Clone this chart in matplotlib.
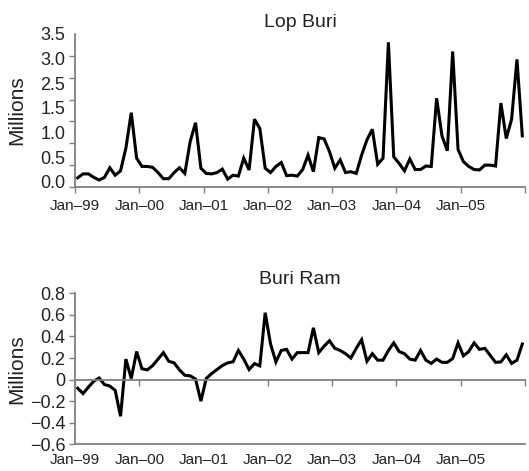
import matplotlib
matplotlib.use("Agg")
import matplotlib.pyplot as plt
from matplotlib.ticker import FixedLocator, NullFormatter
import numpy as np

plt.rcParams['font.family'] = ['Liberation Sans', 'DejaVu Sans']

# Monthly data Jan-1999 .. Dec-2005 (millions)
lop_buri = [0.21, 0.30, 0.30, 0.22, 0.16, 0.22, 0.44, 0.27, 0.37, 0.89, 1.70, 0.66,
            0.47, 0.47, 0.45, 0.33, 0.19, 0.19, 0.33, 0.44, 0.31, 1.04, 1.47, 0.43,
            0.31, 0.30, 0.33, 0.41, 0.18, 0.27, 0.25, 0.66, 0.39, 1.55, 1.34, 0.43,
            0.33, 0.47, 0.56, 0.26, 0.27, 0.25, 0.40, 0.73, 0.35, 1.13, 1.10, 0.81,
            0.43, 0.62, 0.33, 0.35, 0.31, 0.73, 1.08, 1.32, 0.52, 0.66, 3.31, 0.69,
            0.54, 0.37, 0.64, 0.40, 0.40, 0.48, 0.47, 2.03, 1.17, 0.83, 3.10, 0.86,
            0.58, 0.47, 0.40, 0.39, 0.50, 0.50, 0.48, 1.92, 1.11, 1.55, 2.92, 1.17]

buri_ram = [-0.08, -0.13, -0.07, -0.015, 0.015, -0.046, -0.06, -0.10, -0.34, 0.19, 0.01, 0.26,
            0.10, 0.09, 0.13, 0.19, 0.25, 0.17, 0.155, 0.09, 0.04, 0.035, 0.005, -0.20,
            0.01, 0.056, 0.093, 0.13, 0.155, 0.165, 0.27, 0.19, 0.093, 0.148, 0.127, 0.62,
            0.33, 0.164, 0.27, 0.28, 0.19, 0.25, 0.25, 0.25, 0.48, 0.25, 0.31, 0.36,
            0.29, 0.27, 0.24, 0.20, 0.29, 0.37, 0.17, 0.24, 0.18, 0.18, 0.27, 0.34,
            0.26, 0.24, 0.19, 0.18, 0.27, 0.18, 0.15, 0.19, 0.16, 0.16, 0.195, 0.34,
            0.22, 0.26, 0.34, 0.28, 0.29, 0.225, 0.16, 0.164, 0.23, 0.15, 0.18, 0.33]

x_labels = ['Jan\u201399', 'Jan\u201300', 'Jan\u201301', 'Jan\u201302',
            'Jan\u201303', 'Jan\u201304', 'Jan\u201305', '']
top_ymarks = [0.0, 0.5, 1.0, 1.5, 2.0, 2.5, 3.0, 3.5]
top_ylabels = ['0.0', '0.5', '1.0', '1.5', '2.5', '3.0', '3.5']
bot_yticks = [0.8, 0.6, 0.4, 0.2, 0.0, -0.2, -0.4, -0.6]
bot_ylabels = ['0.8', '0.6', '0.4', '0.2', '0', '\u22120.2', '\u22120.4', '\u22120.6']

months = np.arange(len(lop_buri)) + 0.5
xticks = np.arange(0, 85, 12)

GRAY = '#808080'
TXT = '#222222'

fig = plt.figure(figsize=(5.29, 4.71), dpi=100)
ax1 = fig.add_axes([75/529, 1-187/471, 450/529, 153/471])
ax2 = fig.add_axes([75/529, 1-444.3/471, 450/529, 151/471])

for ax in (ax1, ax2):
    ax.spines['right'].set_visible(False)
    for s in ('left', 'bottom', 'top'):
        ax.spines[s].set_color(GRAY)
        ax.spines[s].set_linewidth(1.3)
    ax.set_xlim(0, 84)
    ax.set_xticks(xticks)
    ax.set_xticklabels(x_labels)
    ax.tick_params(axis='y', direction='out', length=4, width=1, color=GRAY,
                   labelsize=13, labelcolor=TXT, pad=3)
    ax.set_ylabel('Millions', fontsize=15, color=TXT)
    ax.yaxis.set_label_coords(-0.108, 0.5)

# Top panel
ax1.spines['top'].set_visible(False)
ax1.plot(months, lop_buri, color='black', lw=2.2, solid_joinstyle='miter')
ax1.set_ylim(0, 3.5)
# the printed labels are spread evenly along the axis (the original skips 2.0)
label_pos = np.linspace(0.12, 3.5, len(top_ylabels))
ax1.yaxis.set_major_locator(FixedLocator(label_pos))
ax1.set_yticklabels(top_ylabels)
ax1.tick_params(axis='y', which='major', length=0, pad=7)
ax1.yaxis.set_minor_locator(FixedLocator(top_ymarks))
ax1.yaxis.set_minor_formatter(NullFormatter())
ax1.tick_params(axis='y', which='minor', direction='out', length=4, width=1, color=GRAY)
ax1.tick_params(axis='x', direction='out', length=4, width=1, color=GRAY,
                labelsize=11, labelcolor=TXT, pad=5)
ax1.set_title('Lop Buri', fontsize=14, color=TXT, pad=5)

# Bottom panel
ax2.plot(months, buri_ram, color='black', lw=2.2, solid_joinstyle='miter')
ax2.set_ylim(-0.6, 0.8)
ax2.set_yticks(bot_yticks)
ax2.set_yticklabels(bot_ylabels)
ax2.spines['top'].set_position(('data', 0))
ax2.tick_params(axis='x', bottom=False, top=True, labelbottom=True, labeltop=False,
                direction='in', length=4, width=1, color=GRAY,
                labelsize=11, labelcolor=TXT, pad=6)
ax2.set_title('Buri Ram', fontsize=14, color=TXT, pad=7)

fig.savefig('out.png', dpi=100)
